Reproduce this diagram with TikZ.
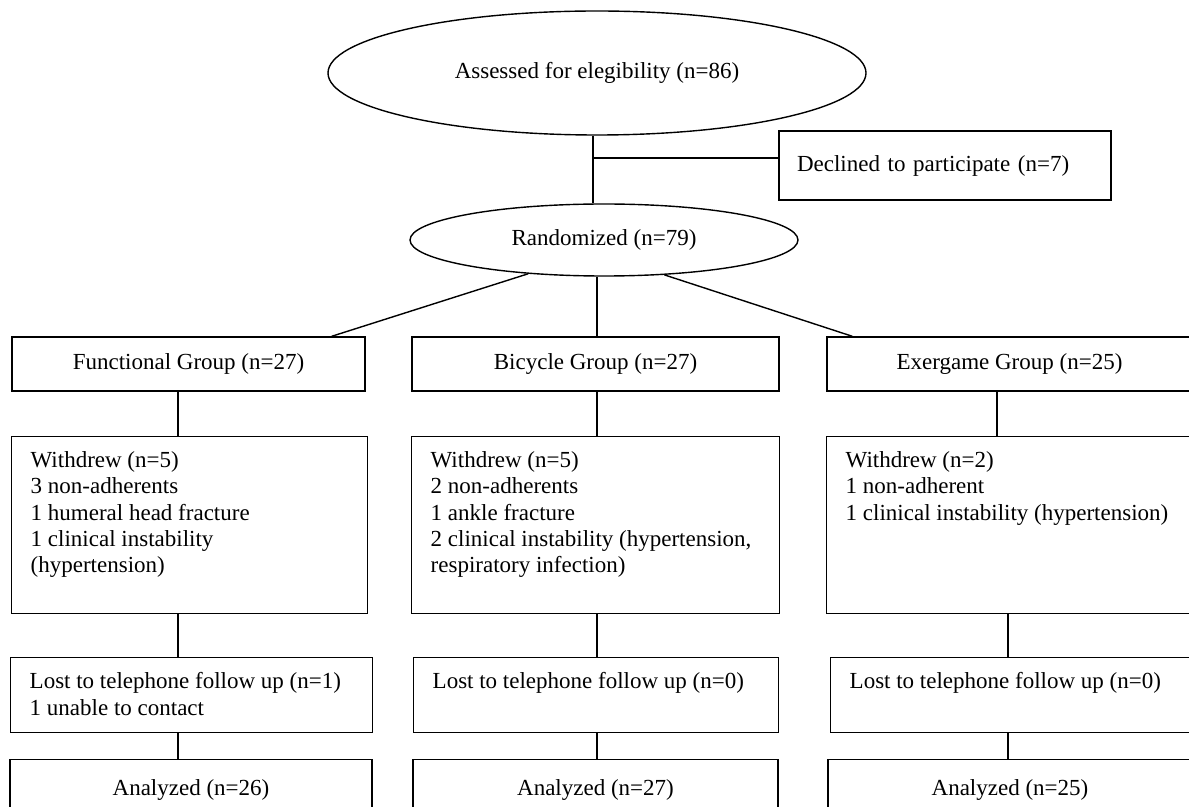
\documentclass[tikz,border=0pt]{standalone}
\usepackage{fontspec}
\setmainfont{Liberation Serif}
\usetikzlibrary{calc,shapes.geometric}

\tikzset{
  oval/.style={draw, ellipse, inner sep=0pt},
  box/.style={draw, rectangle, inner sep=0pt, minimum height=27pt},
  listbox/.style={draw, rectangle, anchor=north west, inner xsep=9.5pt, inner ysep=0pt},
}
\newcommand{\boxlines}[3]{\parbox[c][#1][t]{#2}{\raggedright\rule{0pt}{15.5pt}#3}}

\begin{document}
\begin{tikzpicture}[x=0.5pt, y=0.5pt, line width=0.7pt, font=\fontsize{11.5}{13.15}\selectfont]
	\path[use as bounding box, clip] (0,0) rectangle (1189,-807);
	% enrolment
	\node[oval, minimum width=269pt, minimum height=62pt] (assess) at (597,-73) {Assessed for elegibility (n=86)};
	\node[oval, minimum width=194pt, minimum height=36pt] (rand) at (604,-240) {Randomized (n=79)};
	\node[draw, minimum height=34.5pt, text width=148pt, align=left, inner xsep=9pt] (decl) at (945,-165.5) {Declined to participate (n=7)};
	\coordinate (split) at (593,-158);
	\draw (split |- assess.south) -- (split |- rand.north);
	\draw (split) -- (split -| decl.west);
	% allocation
	\node[box, minimum width=176.5pt] (fg) at (188.5,-364) {Functional Group (n=27)};
	\node[box, minimum width=183.5pt] (bg) at (595.5,-364) {Bicycle Group (n=27)};
	\node[box, minimum width=182.5pt] (eg) at (1009.5,-364) {Exergame Group (n=25)};
	% vertical connectors
	\coordinate (fx) at (178,0);
	\coordinate (bx) at (597,0);
	\coordinate (ex) at (1008,0);
	\coordinate (ex0) at (997,0);
	\draw (rand.204) -- ($(fg.north east)+(-34,0)$);
	\draw (bx |- rand.south) -- (bx |- bg.north);
	\draw (rand.330) -- ($(eg.north west)+(26,0)$);
	% follow up
	\node[listbox] (fw) at (11,-436) {\boxlines{88.5pt}{159pt}{Withdrew (n=5)\\3 non-adherents\\1 humeral head fracture\\1 clinical instability\\(hypertension)}};
	\node[listbox] (bw) at (411,-436) {\boxlines{88.5pt}{165pt}{Withdrew (n=5)\\2 non-adherents\\1 ankle fracture\\2 clinical instability (hypertension,\\respiratory infection)}};
	\node[listbox] (ew) at (826,-436) {\boxlines{88.5pt}{164pt}{Withdrew (n=2)\\1 non-adherent\\1 clinical instability (hypertension)}};
	\node[listbox] (fl) at (10,-657) {\boxlines{37.5pt}{162pt}{Lost to telephone follow up (n=1)\\1 unable to contact}};
	\node[listbox] (bl) at (413,-657) {\boxlines{37.5pt}{163.5pt}{Lost to telephone follow up (n=0)}};
	\node[listbox] (el) at (830,-657) {\boxlines{37.5pt}{162pt}{Lost to telephone follow up (n=0)}};
	% analysis
	\node[box, anchor=north, minimum width=181pt, minimum height=30pt] (fa) at (191,-759) {Analyzed (n=26)};
	\node[box, anchor=north, minimum width=182.5pt, minimum height=30pt] (ba) at (595.5,-759) {Analyzed (n=27)};
	\node[box, anchor=north, minimum width=182pt, minimum height=30pt] (ea) at (1010,-759) {Analyzed (n=25)};
	\draw (fx |- fg.south) -- (fx |- fw.north);
	\draw (fx |- fw.south) -- (fx |- fl.north);
	\draw (fx |- fl.south) -- (fx |- fa.north);
	\draw (bx |- bg.south) -- (bx |- bw.north);
	\draw (bx |- bw.south) -- (bx |- bl.north);
	\draw (bx |- bl.south) -- (bx |- ba.north);
	\draw (ex0 |- eg.south) -- (ex0 |- ew.north);
	\draw (ex |- ew.south) -- (ex |- el.north);
	\draw (ex |- el.south) -- (ex |- ea.north);
\end{tikzpicture}
\end{document}
